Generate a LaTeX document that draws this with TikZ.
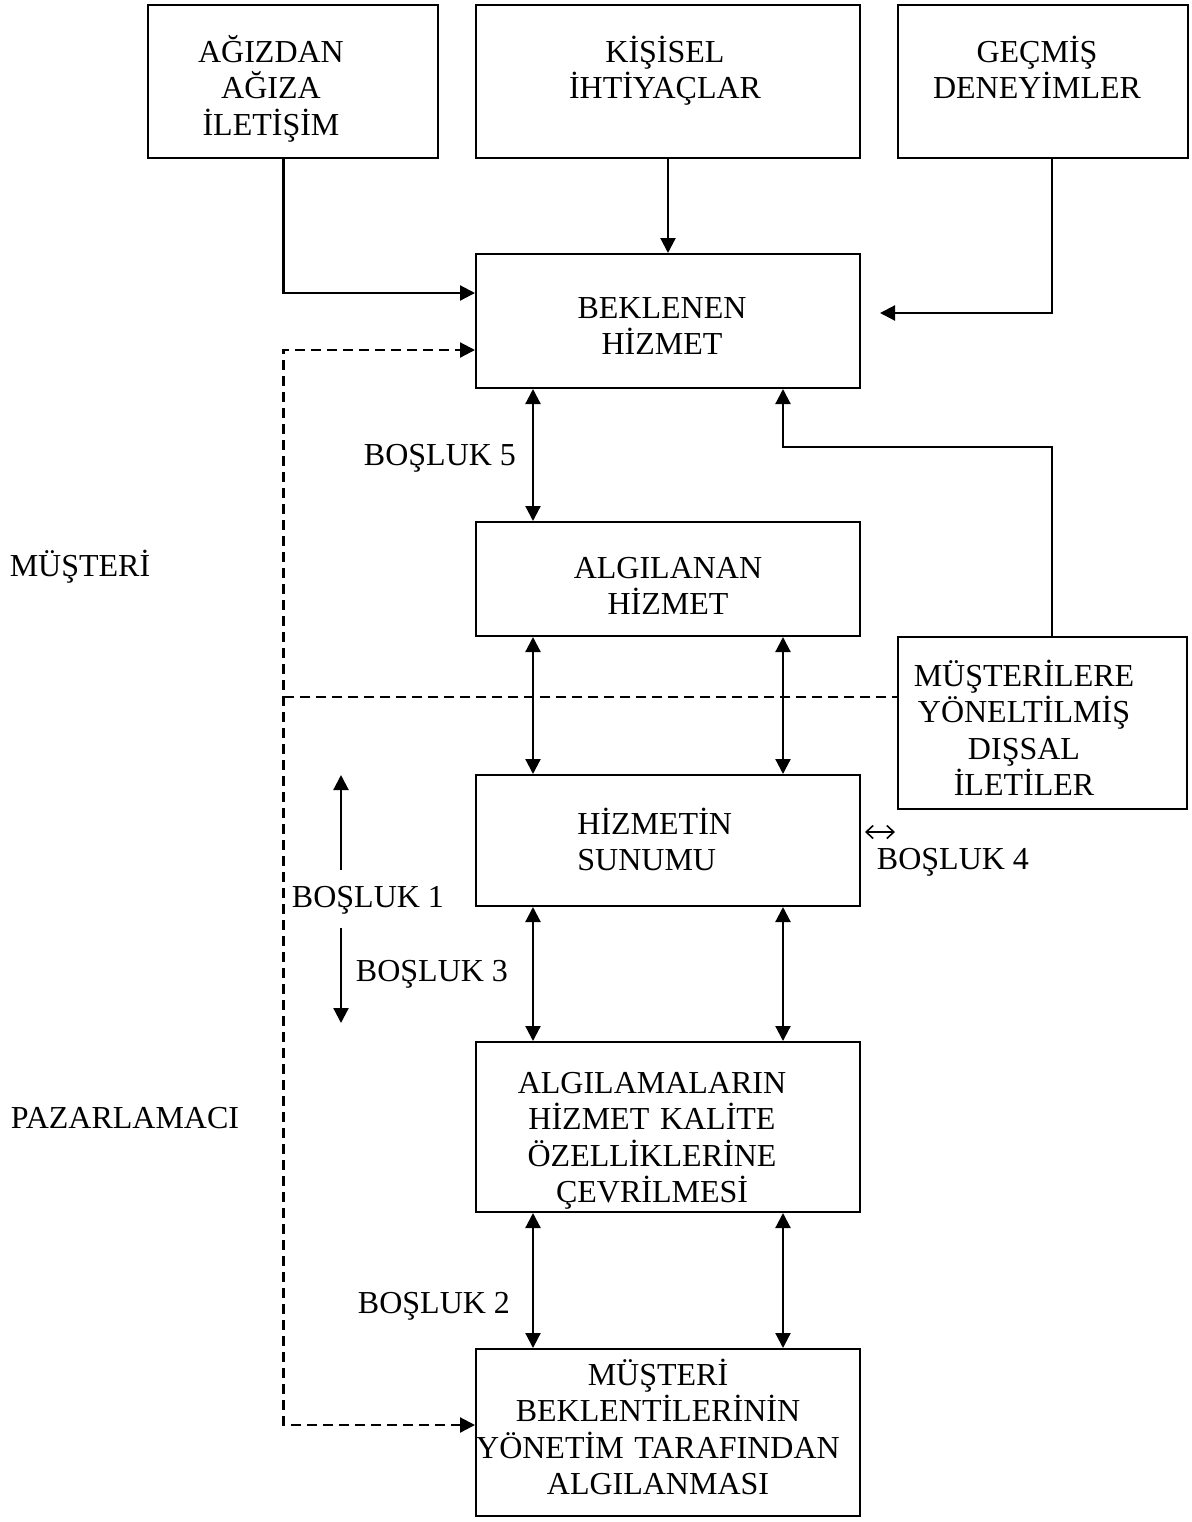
\documentclass[tikz,border=0pt]{standalone}
\usepackage{fontspec}
\setmainfont{Liberation Serif}
\usetikzlibrary{arrows.meta}

\begin{document}
\begin{tikzpicture}[
  x=0.5pt, y=-0.5pt,
  box/.style={draw, line width=1pt, inner sep=0pt},
  txt/.style={anchor=base, align=center, text width=260pt, inner sep=0pt,
              font=\fontsize{16}{18.3}\selectfont},
  lbl/.style={anchor=base, inner sep=0pt, font=\fontsize{16}{18.3}\selectfont},
  arr/.style={line width=1.1pt, -{Triangle[length=7.5pt,width=7.5pt]}},
  biarr/.style={line width=1.1pt, {Triangle[length=7.5pt,width=7.5pt]}-{Triangle[length=7.5pt,width=7.5pt]}},
  dline/.style={line width=1.1pt, dash pattern=on 5pt off 3pt,
                {Triangle[length=7.5pt,width=7.5pt]}-{Triangle[length=7.5pt,width=7.5pt]}},
  thinbi/.style={line width=0.8pt, {Straight Barb[length=3.5pt,width=6.5pt]}-{Straight Barb[length=3.5pt,width=6.5pt]}}
]
\useasboundingbox (0,0) rectangle (1192,1522);

% boxes
\node[box, minimum width=145pt, minimum height=76.5pt] (wom)       at (293,81.5) {};
\node[box, minimum width=192pt, minimum height=76.5pt] (needs)     at (668,81.5) {};
\node[box, minimum width=145pt, minimum height=76.5pt] (past)      at (1043,81.5) {};
\node[box, minimum width=192pt, minimum height=67pt]   (expected)  at (668,321) {};
\node[box, minimum width=192pt, minimum height=57pt]   (perceived) at (668,579) {};
\node[box, minimum width=144.5pt, minimum height=86pt] (extcom)    at (1042.5,723) {};
\node[box, minimum width=192pt, minimum height=65.5pt] (delivery)  at (668,840.5) {};
\node[box, minimum width=192pt, minimum height=85pt]   (specs)     at (668,1127) {};
\node[box, minimum width=192pt, minimum height=83.5pt] (mgmt)      at (668,1432.5) {};

% box texts
\node[txt] (wom-t)       at (271,62)   {AĞIZDAN\\AĞIZA\\İLETİŞİM};
\node[txt] (needs-t)     at (665,62)   {KİŞİSEL\\İHTİYAÇLAR};
\node[txt] (past-t)      at (1037,62)  {GEÇMİŞ\\DENEYİMLER};
\node[txt] (expected-t)  at (662,318)  {BEKLENEN\\HİZMET};
\node[txt] (perceived-t) at (668,578)  {ALGILANAN\\HİZMET};
\node[txt, align=left, anchor=base west] (delivery-t) at (577,834) {HİZMETİN\\SUNUMU};
\node[txt] (extcom-t)    at (1024,686) {MÜŞTERİLERE\\YÖNELTİLMİŞ\\DIŞSAL\\İLETİLER};
\node[txt] (specs-t)     at (652,1093) {ALGILAMALARIN\\HİZMET KALİTE\\ÖZELLİKLERİNE\\ÇEVRİLMESİ};
\node[txt] (mgmt-t)      at (658,1385) {MÜŞTERİ\\BEKLENTİLERİNİN\\YÖNETİM TARAFINDAN\\ALGILANMASI};

% free labels
\node[lbl] (gap5) at (440,465)  {BOŞLUK 5};
\node[lbl] (gap1) at (368,907)  {BOŞLUK 1};
\node[lbl] (gap3) at (432,981)  {BOŞLUK 3};
\node[lbl] (gap4) at (953,869)  {BOŞLUK 4};
\node[lbl] (gap2) at (434,1313) {BOŞLUK 2};
\node[lbl] (cust) at (80,576)   {MÜŞTERİ};
\node[lbl] (mkt)  at (125,1128) {PAZARLAMACI};

% reference lanes and bends
\coordinate (lane)  at (283.5,0);
\coordinate (rlane) at (1052,0);
\coordinate (cl)    at (533,0);
\coordinate (cr)    at (783,0);
\coordinate (ecy)   at (0,447);
\coordinate (split) at (0,697);
\coordinate (dashin)  at ([yshift=-14.5pt]expected.west);
\coordinate (dashbot) at ([yshift=3.75pt]mgmt.west);
\coordinate (g4end) at (895,832);
\coordinate (g1tail) at (341,870);
\coordinate (g1tip)  at (341,775);
\coordinate (g3tail) at (341,928);
\coordinate (g3tip)  at (341,1023);

% influences on the expected service
\draw[arr] (wom.south -| lane) |- ([yshift=14pt]expected.west);
\draw[arr] (needs.south) -- (expected.north);
\draw[arr] (past.south -| rlane) |- ([xshift=9.5pt,yshift=4pt]expected.east);
\draw[arr] (extcom.north -| rlane) |- (cr |- ecy) -- (expected.south -| cr);

% dashed feedback loop and customer / marketer divide
\draw[dline] (dashbot) -| (lane |- dashin) -- (dashin);
\draw[line width=1.1pt, dash pattern=on 5pt off 3pt] (lane |- split) -- (extcom.west |- split);

% gaps between the boxes
\draw[biarr] (expected.south -| cl) -- (perceived.north -| cl);
\draw[biarr] (perceived.south -| cl) -- (delivery.north -| cl);
\draw[biarr] (perceived.south -| cr) -- (delivery.north -| cr);
\draw[biarr] (delivery.south -| cl) -- (specs.north -| cl);
\draw[biarr] (delivery.south -| cr) -- (specs.north -| cr);
\draw[biarr] (specs.south -| cl) -- (mgmt.north -| cl);
\draw[biarr] (specs.south -| cr) -- (mgmt.north -| cr);
\draw[thinbi] ([xshift=2pt,yshift=4.25pt]delivery.east) -- (g4end);
\draw[arr] (g1tail) -- (g1tip);
\draw[arr] (g3tail) -- (g3tip);
\end{tikzpicture}
\end{document}
